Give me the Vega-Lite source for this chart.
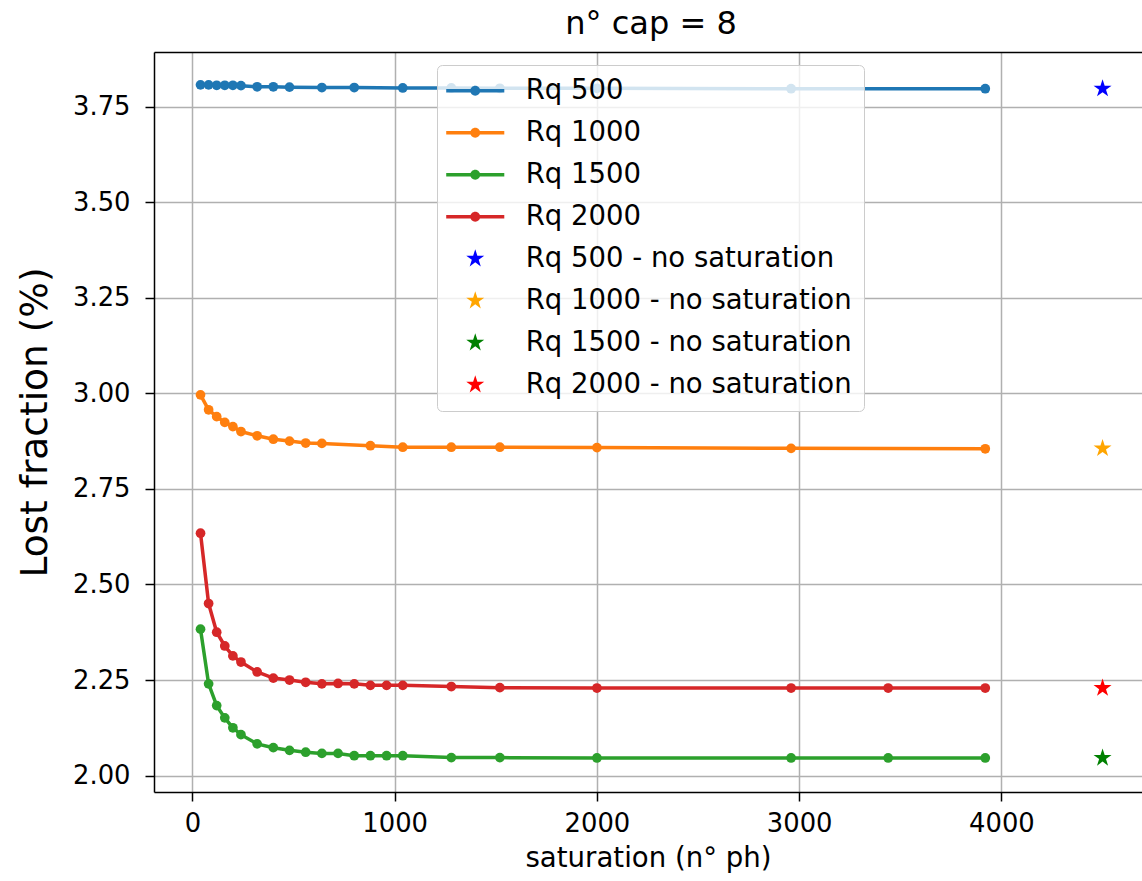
{
  "$schema": "https://vega.github.io/schema/vega-lite/v6.json",
  "width": 988,
  "height": 740,
  "autosize": {"type": "none"},
  "padding": {"left": 154, "top": 52, "right": 0, "bottom": 89},
  "background": "white",
  "title": {"text": "n° cap = 8", "font": "DejaVu Sans", "fontSize": 32, "fontWeight": "normal", "color": "black", "offset": 11, "anchor": "middle", "dx": 3},
  "config": {
    "view": {"stroke": null},
    "font": "DejaVu Sans"
  },
  "data": {"values": [
    {"series": "Rq 500", "kind": "line", "x": 40, "y": 3.807},
    {"series": "Rq 500", "kind": "line", "x": 80, "y": 3.807},
    {"series": "Rq 500", "kind": "line", "x": 120, "y": 3.806},
    {"series": "Rq 500", "kind": "line", "x": 160, "y": 3.806},
    {"series": "Rq 500", "kind": "line", "x": 200, "y": 3.806},
    {"series": "Rq 500", "kind": "line", "x": 240, "y": 3.805},
    {"series": "Rq 500", "kind": "line", "x": 320, "y": 3.802},
    {"series": "Rq 500", "kind": "line", "x": 400, "y": 3.802},
    {"series": "Rq 500", "kind": "line", "x": 480, "y": 3.801},
    {"series": "Rq 500", "kind": "line", "x": 640, "y": 3.800},
    {"series": "Rq 500", "kind": "line", "x": 800, "y": 3.800},
    {"series": "Rq 500", "kind": "line", "x": 1040, "y": 3.799},
    {"series": "Rq 500", "kind": "line", "x": 1280, "y": 3.799},
    {"series": "Rq 500", "kind": "line", "x": 1520, "y": 3.798},
    {"series": "Rq 500", "kind": "line", "x": 2000, "y": 3.798},
    {"series": "Rq 500", "kind": "line", "x": 2960, "y": 3.797},
    {"series": "Rq 500", "kind": "line", "x": 3920, "y": 3.797},
    {"series": "Rq 1000", "kind": "line", "x": 40, "y": 2.996},
    {"series": "Rq 1000", "kind": "line", "x": 80, "y": 2.957},
    {"series": "Rq 1000", "kind": "line", "x": 120, "y": 2.939},
    {"series": "Rq 1000", "kind": "line", "x": 160, "y": 2.924},
    {"series": "Rq 1000", "kind": "line", "x": 200, "y": 2.913},
    {"series": "Rq 1000", "kind": "line", "x": 240, "y": 2.900},
    {"series": "Rq 1000", "kind": "line", "x": 320, "y": 2.889},
    {"series": "Rq 1000", "kind": "line", "x": 400, "y": 2.880},
    {"series": "Rq 1000", "kind": "line", "x": 480, "y": 2.875},
    {"series": "Rq 1000", "kind": "line", "x": 560, "y": 2.870},
    {"series": "Rq 1000", "kind": "line", "x": 640, "y": 2.869},
    {"series": "Rq 1000", "kind": "line", "x": 880, "y": 2.863},
    {"series": "Rq 1000", "kind": "line", "x": 1040, "y": 2.859},
    {"series": "Rq 1000", "kind": "line", "x": 1280, "y": 2.859},
    {"series": "Rq 1000", "kind": "line", "x": 1520, "y": 2.859},
    {"series": "Rq 1000", "kind": "line", "x": 2000, "y": 2.858},
    {"series": "Rq 1000", "kind": "line", "x": 2960, "y": 2.856},
    {"series": "Rq 1000", "kind": "line", "x": 3920, "y": 2.855},
    {"series": "Rq 1500", "kind": "line", "x": 40, "y": 2.383},
    {"series": "Rq 1500", "kind": "line", "x": 80, "y": 2.240},
    {"series": "Rq 1500", "kind": "line", "x": 120, "y": 2.183},
    {"series": "Rq 1500", "kind": "line", "x": 160, "y": 2.151},
    {"series": "Rq 1500", "kind": "line", "x": 200, "y": 2.125},
    {"series": "Rq 1500", "kind": "line", "x": 240, "y": 2.107},
    {"series": "Rq 1500", "kind": "line", "x": 320, "y": 2.083},
    {"series": "Rq 1500", "kind": "line", "x": 400, "y": 2.073},
    {"series": "Rq 1500", "kind": "line", "x": 480, "y": 2.066},
    {"series": "Rq 1500", "kind": "line", "x": 560, "y": 2.061},
    {"series": "Rq 1500", "kind": "line", "x": 640, "y": 2.058},
    {"series": "Rq 1500", "kind": "line", "x": 720, "y": 2.058},
    {"series": "Rq 1500", "kind": "line", "x": 800, "y": 2.052},
    {"series": "Rq 1500", "kind": "line", "x": 880, "y": 2.052},
    {"series": "Rq 1500", "kind": "line", "x": 960, "y": 2.052},
    {"series": "Rq 1500", "kind": "line", "x": 1040, "y": 2.052},
    {"series": "Rq 1500", "kind": "line", "x": 1280, "y": 2.047},
    {"series": "Rq 1500", "kind": "line", "x": 1520, "y": 2.047},
    {"series": "Rq 1500", "kind": "line", "x": 2000, "y": 2.046},
    {"series": "Rq 1500", "kind": "line", "x": 2960, "y": 2.046},
    {"series": "Rq 1500", "kind": "line", "x": 3440, "y": 2.046},
    {"series": "Rq 1500", "kind": "line", "x": 3920, "y": 2.046},
    {"series": "Rq 2000", "kind": "line", "x": 40, "y": 2.634},
    {"series": "Rq 2000", "kind": "line", "x": 80, "y": 2.450},
    {"series": "Rq 2000", "kind": "line", "x": 120, "y": 2.375},
    {"series": "Rq 2000", "kind": "line", "x": 160, "y": 2.339},
    {"series": "Rq 2000", "kind": "line", "x": 200, "y": 2.313},
    {"series": "Rq 2000", "kind": "line", "x": 240, "y": 2.297},
    {"series": "Rq 2000", "kind": "line", "x": 320, "y": 2.271},
    {"series": "Rq 2000", "kind": "line", "x": 400, "y": 2.255},
    {"series": "Rq 2000", "kind": "line", "x": 480, "y": 2.250},
    {"series": "Rq 2000", "kind": "line", "x": 560, "y": 2.244},
    {"series": "Rq 2000", "kind": "line", "x": 640, "y": 2.240},
    {"series": "Rq 2000", "kind": "line", "x": 720, "y": 2.241},
    {"series": "Rq 2000", "kind": "line", "x": 800, "y": 2.240},
    {"series": "Rq 2000", "kind": "line", "x": 880, "y": 2.236},
    {"series": "Rq 2000", "kind": "line", "x": 960, "y": 2.236},
    {"series": "Rq 2000", "kind": "line", "x": 1040, "y": 2.236},
    {"series": "Rq 2000", "kind": "line", "x": 1280, "y": 2.233},
    {"series": "Rq 2000", "kind": "line", "x": 1520, "y": 2.230},
    {"series": "Rq 2000", "kind": "line", "x": 2000, "y": 2.229},
    {"series": "Rq 2000", "kind": "line", "x": 2960, "y": 2.229},
    {"series": "Rq 2000", "kind": "line", "x": 3440, "y": 2.229},
    {"series": "Rq 2000", "kind": "line", "x": 3920, "y": 2.229},
    {"series": "Rq 500 - no saturation", "kind": "star", "x": 4500, "y": 3.797},
    {"series": "Rq 1000 - no saturation", "kind": "star", "x": 4500, "y": 2.856},
    {"series": "Rq 1500 - no saturation", "kind": "star", "x": 4500, "y": 2.046},
    {"series": "Rq 2000 - no saturation", "kind": "star", "x": 4500, "y": 2.229}
  ]},
  "resolve": {"axis": {"x": "independent"}},
  "encoding": {
    "x": {"field": "x", "type": "quantitative",
      "scale": {"domain": [-190, 4695], "nice": false, "zero": false},
      "axis": {"values": [0, 1000, 2000, 3000, 4000], "format": "d", "title": "saturation (n° ph)",
        "labelFont": "DejaVu Sans", "labelFontSize": 25.8, "labelColor": "black", "labelPadding": 10,
        "tickSize": 9, "tickWidth": 1.5, "tickColor": "black", "domainColor": "black", "domainWidth": 1.5,
        "grid": true, "gridColor": "#b0b0b0", "gridWidth": 1.5,
        "titleFont": "DejaVu Sans", "titleFontSize": 27.6, "titleFontWeight": "normal", "titleColor": "black", "titlePadding": 9}},
    "y": {"field": "y", "type": "quantitative",
      "scale": {"domain": [1.957, 3.893], "nice": false, "zero": false},
      "axis": {"values": [2, 2.25, 2.5, 2.75, 3, 3.25, 3.5, 3.75], "format": ".2f", "title": "Lost fraction (%)",
        "labelFont": "DejaVu Sans", "labelFontSize": 25.8, "labelColor": "black", "labelPadding": 15,
        "tickSize": 9, "tickWidth": 1.5, "tickColor": "black", "domainColor": "black", "domainWidth": 1.5,
        "grid": true, "gridColor": "#b0b0b0", "gridWidth": 1.5,
        "titleFont": "DejaVu Sans", "titleFontSize": 37.5, "titleFontWeight": "normal", "titleColor": "black", "titlePadding": 18}},
    "color": {"field": "series", "type": "nominal",
      "scale": {"domain": ["Rq 500", "Rq 1000", "Rq 1500", "Rq 2000", "Rq 500 - no saturation", "Rq 1000 - no saturation", "Rq 1500 - no saturation", "Rq 2000 - no saturation"],
        "range": ["#1f77b4", "#ff7f0e", "#2ca02c", "#d62728", "#0000ff", "#ffa500", "#008000", "#ff0000"]},
      "legend": {"title": null, "orient": "none", "legendX": 283, "legendY": 13,
        "padding": 12, "rowPadding": 13, "labelOffset": 36.7, "symbolOffset": 12.5,
        "symbolSize": 484, "symbolStrokeWidth": 0,
        "labelFontSize": 27.5, "labelFont": "DejaVu Sans", "labelColor": "black", "labelLimit": 700,
        "fillColor": "rgba(255,255,255,0.8)", "strokeColor": "#cccccc", "cornerRadius": 5}}
  },
  "layer": [
    {
      "transform": [{"filter": "datum.kind === 'line'"}],
      "mark": {"type": "line", "strokeWidth": 3.5}
    },
    {
      "transform": [{"filter": "datum.kind === 'line'"}],
      "mark": {"type": "point", "filled": true, "shape": "circle", "size": 95, "opacity": 1},
      "encoding": {
        "x": {"field": "x", "type": "quantitative",
          "scale": {"domain": [-190, 4695], "nice": false, "zero": false},
          "axis": {"orient": "top", "labels": false, "ticks": false, "grid": false, "domain": true, "title": null, "domainColor": "black", "domainWidth": 1.5}}
      }
    },
    {
      "transform": [{"filter": "datum.kind === 'star'"}],
      "mark": {"type": "point", "filled": true, "size": 484, "opacity": 1, "strokeWidth": 0},
      "encoding": {
        "x": {"field": "x", "type": "quantitative",
          "scale": {"domain": [-190, 4695], "nice": false, "zero": false}, "axis": null},
        "shape": {"field": "series", "type": "nominal",
          "scale": {"domain": ["Rq 500", "Rq 1000", "Rq 1500", "Rq 2000", "Rq 500 - no saturation", "Rq 1000 - no saturation", "Rq 1500 - no saturation", "Rq 2000 - no saturation"],
            "range": [
              "M-2.64,-0.16L2.64,-0.16L2.64,0.16L-2.64,0.16ZM-0.45,0A0.45,0.45 0 1 1 0.45,0A0.45,0.45 0 1 1 -0.45,0Z",
              "M-2.64,-0.16L2.64,-0.16L2.64,0.16L-2.64,0.16ZM-0.45,0A0.45,0.45 0 1 1 0.45,0A0.45,0.45 0 1 1 -0.45,0Z",
              "M-2.64,-0.16L2.64,-0.16L2.64,0.16L-2.64,0.16ZM-0.45,0A0.45,0.45 0 1 1 0.45,0A0.45,0.45 0 1 1 -0.45,0Z",
              "M-2.64,-0.16L2.64,-0.16L2.64,0.16L-2.64,0.16ZM-0.45,0A0.45,0.45 0 1 1 0.45,0A0.45,0.45 0 1 1 -0.45,0Z",
              "M0,-0.86L0.1928,-0.2654L0.8179,-0.2657L0.3119,0.1014L0.5055,0.6958L0,0.328L-0.5055,0.6958L-0.3119,0.1014L-0.8179,-0.2657L-0.1928,-0.2654Z",
              "M0,-0.86L0.1928,-0.2654L0.8179,-0.2657L0.3119,0.1014L0.5055,0.6958L0,0.328L-0.5055,0.6958L-0.3119,0.1014L-0.8179,-0.2657L-0.1928,-0.2654Z",
              "M0,-0.86L0.1928,-0.2654L0.8179,-0.2657L0.3119,0.1014L0.5055,0.6958L0,0.328L-0.5055,0.6958L-0.3119,0.1014L-0.8179,-0.2657L-0.1928,-0.2654Z",
              "M0,-0.86L0.1928,-0.2654L0.8179,-0.2657L0.3119,0.1014L0.5055,0.6958L0,0.328L-0.5055,0.6958L-0.3119,0.1014L-0.8179,-0.2657L-0.1928,-0.2654Z"
            ]},
          "legend": {"title": null, "orient": "none", "legendX": 283, "legendY": 13,
            "padding": 12, "rowPadding": 13, "labelOffset": 36.7, "symbolOffset": 12.5,
            "symbolSize": 484, "symbolStrokeWidth": 0,
            "labelFontSize": 27.5, "labelFont": "DejaVu Sans", "labelColor": "black", "labelLimit": 700,
            "fillColor": "rgba(255,255,255,0.8)", "strokeColor": "#cccccc", "cornerRadius": 5}}
      }
    }
  ]
}
